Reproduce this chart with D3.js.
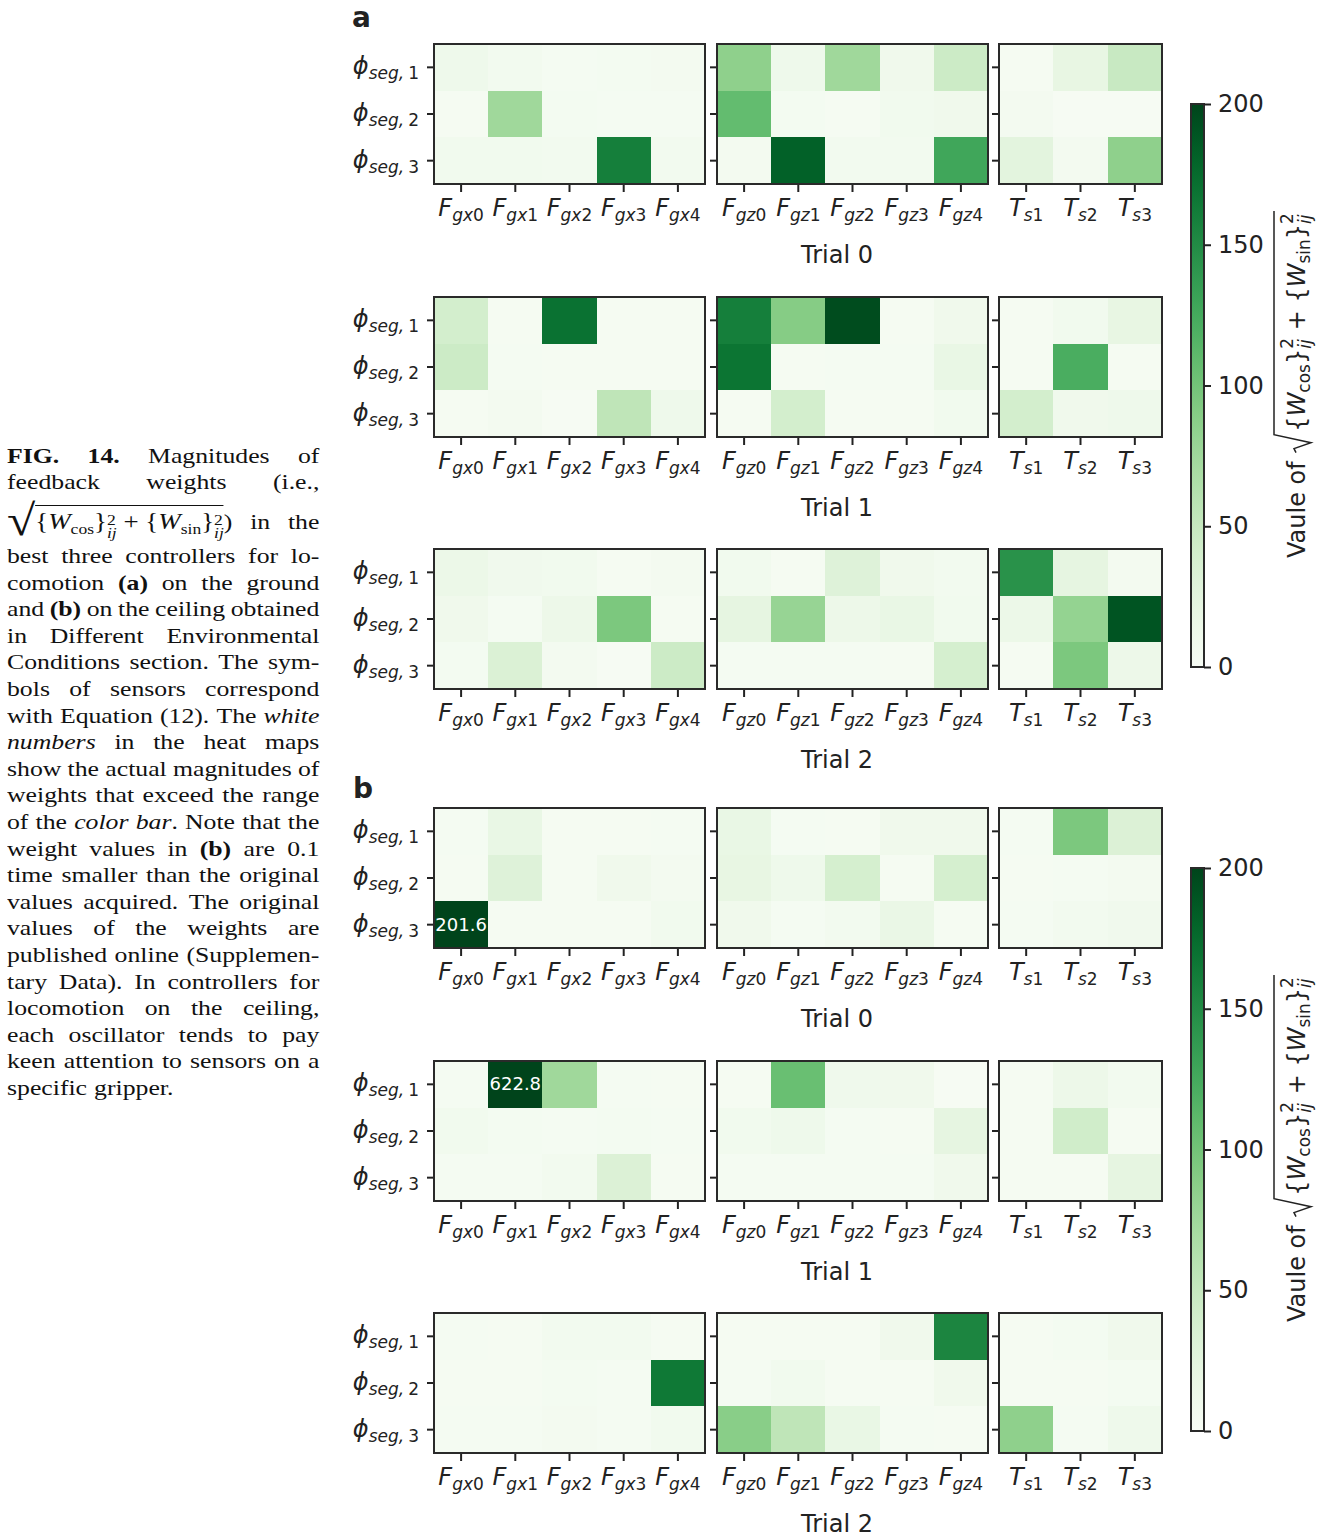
<!DOCTYPE html>
<html>
<head>
<meta charset="utf-8">
<script src="https://cdn.jsdelivr.net/npm/d3@7"></script>
<style>
body { margin: 0; background: #fff; }
#wrap { position: relative; width: 1330px; height: 1537px; overflow: hidden; }
svg { position: absolute; left: 0; top: 0; }
.cap {
	position: absolute; left: 7px; width: 267px; height: 26px;
	font-family: "Liberation Serif", "Times New Roman", serif;
	font-size: 22px; line-height: 26px; color: #111;
	transform: scaleX(1.17); transform-origin: 0 0;
	display: flex; justify-content: space-between; white-space: nowrap;
}
.cap.last { justify-content: flex-start; gap: 6px; }
.cap b { font-weight: bold; }
.st { display: inline-flex; flex-direction: column; font-size: 15px; line-height: 13px; vertical-align: 4px; }
.cap sub { font-size: 15px; vertical-align: -5px; line-height: 0; }
.rad { font-size: 44px; vertical-align: -6px; line-height: 0; }
.ov { border-top: 1.3px solid #111; padding-top: 3px; font-size: 23px; }
</style>
</head>
<body>
<div id="wrap"></div>
<script>
// ---- data ----
var rowIdx = ["1", "2", "3"];
var gxCols = ["0", "1", "2", "3", "4"];
var gzCols = ["0", "1", "2", "3", "4"];
var tsCols = ["1", "2", "3"];
var trialNames = ["Trial 0", "Trial 1", "Trial 2"];
var cbTicks = [0, 50, 100, 150, 200];
var vmax = 200;

// (a) ground
var a0_gx = [[12, 7, 4, 5, 6], [3, 75, 5, 4, 4], [8, 8, 7, 160, 7]];
var a0_gz = [[85, 12, 75, 10, 45], [108, 5, 3, 8, 10], [6, 182, 7, 7, 128]];
var a0_ts = [[3, 20, 48], [6, 2, 2], [25, 6, 85]];
var a1_gx = [[40, 3, 170, 3, 3], [45, 4, 3, 3, 3], [3, 6, 2, 55, 12]];
var a1_gz = [[160, 90, 195, 3, 10], [168, 3, 4, 4, 18], [3, 40, 3, 3, 8]];
var a1_ts = [[3, 8, 20], [3, 122, 3], [40, 10, 12]];
var a2_gx = [[15, 9, 8, 3, 6], [10, 4, 14, 95, 3], [5, 33, 6, 2, 45]];
var a2_gz = [[8, 3, 30, 10, 7], [22, 80, 14, 18, 8], [4, 4, 4, 3, 38]];
var a2_ts = [[145, 22, 6], [15, 82, 190], [3, 95, 14]];
// (b) ceiling
var b0_gx = [[4, 18, 3, 3, 4], [3, 30, 3, 10, 6], [201.6, 3, 3, 3, 8]];
var b0_gz = [[18, 4, 3, 10, 10], [20, 12, 38, 3, 38], [10, 4, 7, 17, 3]];
var b0_ts = [[4, 95, 32], [3, 4, 6], [4, 7, 9]];
var b1_gx = [[4, 622.8, 75, 4, 3], [8, 5, 4, 5, 4], [4, 4, 7, 32, 3]];
var b1_gz = [[3, 105, 11, 10, 2], [8, 12, 4, 3, 22], [4, 4, 4, 4, 10]];
var b1_ts = [[3, 14, 7], [3, 42, 3], [3, 3, 22]];
var b2_gx = [[4, 3, 7, 7, 3], [3, 3, 5, 4, 165], [4, 4, 6, 4, 8]];
var b2_gz = [[3, 3, 3, 10, 155], [4, 8, 3, 3, 10], [88, 55, 18, 4, 3]];
var b2_ts = [[3, 5, 10], [3, 3, 5], [85, 4, 12]];

var groundTrials = [[a0_gx, a0_gz, a0_ts], [a1_gx, a1_gz, a1_ts], [a2_gx, a2_gz, a2_ts]];
var ceilingTrials = [[b0_gx, b0_gz, b0_ts], [b1_gx, b1_gz, b1_ts], [b2_gx, b2_gz, b2_ts]];

// ---- layout ----
var W = 1330, H = 1537;
var ink = "#222";
var rowTops = [44, 297, 549, 808, 1061, 1313];
var panelH = 140;
var panels = [
	{ x: 434, w: 271, cols: gxCols, main: "F", sub: "gx" },
	{ x: 717, w: 271, cols: gzCols, main: "F", sub: "gz" },
	{ x: 999, w: 163, cols: tsCols, main: "T", sub: "s" }
];
var trialLabelX = 837;

var color = d3.scaleSequential(d3.interpolateGreens).domain([0, vmax]).clamp(true);

var wrap = d3.select("#wrap");
var svg = wrap.append("svg").attr("width", W).attr("height", H)
	.style("font-family", "'DejaVu Sans', sans-serif");

var allTrials = groundTrials.concat(ceilingTrials);

allTrials.forEach(function(trial, t) {
	var top = rowTops[t];
	var ys = d3.scaleBand().domain(rowIdx).range([top, top + panelH]);

	trial.forEach(function(mat, p) {
		var P = panels[p];
		var xs = d3.scaleBand().domain(P.cols).range([P.x, P.x + P.w]);
		var g = svg.append("g");

		var cells = [];
		mat.forEach(function(row, r) {
			row.forEach(function(v, c) { cells.push({ r: rowIdx[r], c: P.cols[c], v: v }); });
		});

		g.selectAll("rect.cell").data(cells).enter().append("rect")
			.attr("class", "cell")
			.attr("x", function(d) { return xs(d.c); })
			.attr("y", function(d) { return ys(d.r); })
			.attr("width", xs.bandwidth() + 0.5)
			.attr("height", ys.bandwidth() + 0.5)
			.attr("shape-rendering", "crispEdges")
			.attr("fill", function(d) { return color(d.v); });

		// numbers exceeding the colour range
		g.selectAll("text.over").data(cells.filter(function(d) { return d.v > vmax; }))
			.enter().append("text")
			.attr("class", "over")
			.attr("x", function(d) { return xs(d.c) + xs.bandwidth() / 2; })
			.attr("y", function(d) { return ys(d.r) + ys.bandwidth() / 2 + 6; })
			.attr("text-anchor", "middle")
			.attr("font-size", 18)
			.attr("fill", "#fff")
			.text(function(d) { return d.v.toFixed(1); });

		// frame
		g.append("rect")
			.attr("x", P.x).attr("y", top)
			.attr("width", P.w).attr("height", panelH)
			.attr("fill", "none").attr("stroke", "#2a2a2a").attr("stroke-width", 2);

		// bottom ticks + labels
		var xt = g.selectAll("g.xt").data(P.cols).enter().append("g")
			.attr("transform", function(d) { return "translate(" + (xs(d) + xs.bandwidth() / 2) + "," + (top + panelH) + ")"; });
		xt.append("line").attr("y1", 1).attr("y2", 8).attr("stroke", ink).attr("stroke-width", 2);
		var xl = xt.append("text").attr("y", 32).attr("text-anchor", "middle").attr("fill", ink).attr("font-size", 24);
		xl.append("tspan").attr("font-style", "italic").text(P.main);
		xl.append("tspan").attr("font-style", "italic").attr("font-size", 17).attr("dy", 5).text(P.sub);
		xl.append("tspan").attr("font-size", 17).text(function(d) { return d; });

		// left ticks
		g.selectAll("line.yt").data(rowIdx).enter().append("line")
			.attr("x1", P.x - 1).attr("x2", P.x - 7)
			.attr("y1", function(d) { return ys(d) + ys.bandwidth() / 2; })
			.attr("y2", function(d) { return ys(d) + ys.bandwidth() / 2; })
			.attr("stroke", ink).attr("stroke-width", 2);

		if (p === 0) {
			var yl = g.selectAll("text.yl").data(rowIdx).enter().append("text")
				.attr("x", P.x - 15)
				.attr("y", function(d) { return ys(d) + ys.bandwidth() / 2 + 7; })
				.attr("text-anchor", "end").attr("fill", ink).attr("font-size", 24);
			yl.append("tspan").attr("font-style", "italic").text("\u03D5");
			yl.append("tspan").attr("font-style", "italic").attr("font-size", 17).attr("dy", 5).text("seg,");
			yl.append("tspan").attr("font-size", 17).attr("dx", 4).text(function(d) { return d; });
		}
	});

	svg.append("text")
		.attr("x", trialLabelX).attr("y", top + 219)
		.attr("text-anchor", "middle").attr("font-size", 24).attr("fill", ink)
		.text(trialNames[t % 3]);
});

// section letters
svg.append("text").attr("x", 352).attr("y", 27).attr("font-size", 28).attr("font-weight", "bold").attr("fill", ink).text("a");
svg.append("text").attr("x", 353).attr("y", 798).attr("font-size", 28).attr("font-weight", "bold").attr("fill", ink).text("b");

// ---- colour bars ----
var grad = svg.append("defs").append("linearGradient")
	.attr("id", "cbgrad").attr("x1", 0).attr("y1", 1).attr("x2", 0).attr("y2", 0);
d3.range(0, 1.0001, 0.05).forEach(function(s) {
	grad.append("stop").attr("offset", s).attr("stop-color", d3.interpolateGreens(s));
});

function colorbar(top, bottom) {
	var cx = 1191, cw = 13;
	var g = svg.append("g");
	g.append("rect").attr("x", cx).attr("y", top).attr("width", cw).attr("height", bottom - top)
		.attr("fill", "url(#cbgrad)").attr("stroke", "#2a2a2a").attr("stroke-width", 2);
	var sc = d3.scaleLinear().domain([0, vmax]).range([bottom, top]);
	var ax = g.append("g").attr("transform", "translate(" + (cx + cw) + ",0)")
		.call(d3.axisRight(sc).tickValues(cbTicks).tickSize(7).tickPadding(7));
	ax.select(".domain").remove();
	ax.selectAll("line").attr("stroke", ink).attr("stroke-width", 2);
	ax.selectAll("text").attr("font-size", 24).attr("fill", ink)
		.attr("font-family", "'DejaVu Sans', sans-serif");

	// rotated label: Vaule of sqrt({W_cos}^2_ij + {W_sin}^2_ij)
	var lg = g.append("g").attr("transform", "translate(1305," + ((top + bottom) / 2) + ") rotate(-90)");
	var parts = [
		{ t: "Vaule of ", s: 24 },
		{ rad: true },
		{ t: "{", s: 24 }, { t: "W", s: 24, it: true }, { t: "cos", s: 17, dy: 5 }, { t: "}", s: 24 },
		{ t: "2", s: 17, dy: -12, stack: true }, { t: "ij", s: 17, dy: 6, it: true },
		{ t: " + ", s: 24 },
		{ t: "{", s: 24 }, { t: "W", s: 24, it: true }, { t: "sin", s: 17, dy: 5 }, { t: "}", s: 24 },
		{ t: "2", s: 17, dy: -12, stack: true }, { t: "ij", s: 17, dy: 6, it: true }
	];
	var x = 0, radX = null, pending = 0;
	var nodes = [];
	parts.forEach(function(pt) {
		if (pt.rad) { radX = x; x += 22; return; }
		var el = lg.append("text").attr("x", x).attr("y", pt.dy || 0)
			.attr("font-size", pt.s).attr("fill", ink)
			.attr("font-style", pt.it ? "italic" : "normal")
			.style("white-space", "pre").text(pt.t);
		var wlen = el.node().getComputedTextLength();
		if (pt.stack) { pending = wlen; }
		else { x += Math.max(wlen, pending); pending = 0; }
		nodes.push(el);
	});
	var total = x;
	nodes.forEach(function(el) { el.attr("x", +el.attr("x") - total / 2); });
	var r0 = radX - total / 2, r1 = total / 2 + 2;
	lg.append("path")
		.attr("d", "M" + (r0 + 1) + ",-9 L" + (r0 + 5) + ",-11 L" + (r0 + 11) + ",6 L" + (r0 + 19) + ",-31 L" + r1 + ",-31")
		.attr("fill", "none").attr("stroke", ink).attr("stroke-width", 1.5);
}
colorbar(104, 667);
colorbar(868, 1431);

// ---- caption ----
var supij = '<span class="st"><span>2</span><span><i>ij</i></span></span>';
var sqrtExpr = '<span><span class="rad">\u221A</span><span class="ov">{<i>W</i><sub>cos</sub>}' + supij +
	' + {<i>W</i><sub>sin</sub>}' + supij + '</span>)</span>';
var capLines = [
	["<b>FIG.</b>", "<b>14.</b>", "Magnitudes", "of"],
	["feedback", "weights", "(i.e.,"],
	[sqrtExpr, "in", "the"],
	["best", "three", "controllers", "for", "lo-"],
	["comotion", "<b>(a)</b>", "on", "the", "ground"],
	["and", "<b>(b)</b>", "on", "the", "ceiling", "obtained"],
	["in", "Different", "Environmental"],
	["Conditions", "section.", "The", "sym-"],
	["bols", "of", "sensors", "correspond"],
	["with", "Equation", "(12).", "The", "<i>white</i>"],
	["<i>numbers</i>", "in", "the", "heat", "maps"],
	["show", "the", "actual", "magnitudes", "of"],
	["weights", "that", "exceed", "the", "range"],
	["of", "the", "<i>color</i>", "<i>bar</i>.", "Note", "that", "the"],
	["weight", "values", "in", "<b>(b)</b>", "are", "0.1"],
	["time", "smaller", "than", "the", "original"],
	["values", "acquired.", "The", "original"],
	["values", "of", "the", "weights", "are"],
	["published", "online", "(Supplemen-"],
	["tary", "Data).", "In", "controllers", "for"],
	["locomotion", "on", "the", "ceiling,"],
	["each", "oscillator", "tends", "to", "pay"],
	["keen", "attention", "to", "sensors", "on", "a"],
	["specific", "gripper."]
];
capLines.forEach(function(words, i) {
	var cy = i < 2 ? 457 + 26 * i : (i === 2 ? 523 : 557 + 26.6 * (i - 3));
	var div = wrap.append("div").attr("class", "cap" + (i === capLines.length - 1 ? " last" : ""))
		.style("top", (cy - 14) + "px");
	words.forEach(function(w) { div.append("span").html(w); });
});
</script>
</body>
</html>
